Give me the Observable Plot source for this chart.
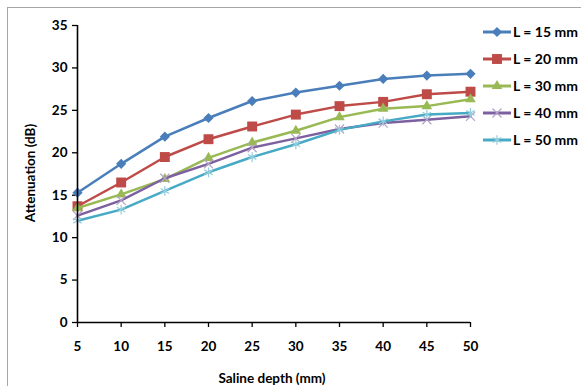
<!DOCTYPE html>
<html><head><meta charset="utf-8">
<script src="https://cdn.jsdelivr.net/npm/d3@7"></script>
<script src="https://cdn.jsdelivr.net/npm/@observablehq/plot@0.6"></script>
<style>
body{margin:0;background:#fff;}
#wrap{position:relative;width:581px;height:386px;overflow:hidden;font-family:Lato,"Open Sans",sans-serif;}
#frame{position:absolute;left:7px;top:7px;width:620px;height:420px;border:1px solid #a6a6a6;}
#chart{position:absolute;left:0;top:0;}
#chart svg text{font-weight:bold;fill:#000;}
#legend{position:absolute;left:478px;top:18px;}
.title{position:absolute;font-weight:bold;font-size:13.5px;color:#000;white-space:nowrap;}
#ytitle{left:30px;top:173px;transform:translate(-50%,-50%) rotate(-90deg);}
#xtitle{left:272px;top:378px;transform:translate(-50%,-50%);}
</style></head>
<body><div id="wrap"><div id="frame"></div><div id="chart"></div><svg id="legend" width="103" height="140"></svg>
<div class="title" id="ytitle">Attenuation (dB)</div><div class="title" id="xtitle">Saline depth (mm)</div></div>
<script>
const depths = [5, 10, 15, 20, 25, 30, 35, 40, 45, 50];
const seriesNames = ["L = 15 mm", "L = 20 mm", "L = 30 mm", "L = 40 mm", "L = 50 mm"];
const L15 = [15.3, 18.7, 21.9, 24.1, 26.1, 27.1, 27.9, 28.7, 29.1, 29.3];
const L20 = [13.7, 16.5, 19.5, 21.6, 23.1, 24.5, 25.5, 26.0, 26.9, 27.2];
const L30 = [13.5, 15.1, 16.9, 19.4, 21.2, 22.6, 24.2, 25.2, 25.5, 26.3];
const L40 = [12.6, 14.4, 17.0, 18.7, 20.6, 21.7, 22.8, 23.5, 23.9, 24.3];
const L50 = [12.0, 13.3, 15.5, 17.7, 19.5, 21.0, 22.7, 23.7, 24.5, 24.7];
const yTicks = [0, 5, 10, 15, 20, 25, 30, 35];

const seriesValues = [L15, L20, L30, L40, L50];
const lineColors = ["#4a7ebb", "#be4b48", "#98b954", "#7d60a0", "#46aac5"];
const markColors = ["#4a7ebb", "#be4b48", "#98b954", "#b3a2c7", "#93cddd"];
const symbols = [d3.symbolDiamond2, "square", "triangle", "times", "asterisk"];
const radii = [4.6, 5.6, 3.9, 4.2, 4.6];
const filled = [true, true, true, false, false];

const marks = [];
seriesValues.forEach((vals, i) => {
  const rows = depths.map((d, j) => ({depth: d, value: vals[j], series: seriesNames[i]}));
  marks.push(Plot.line(rows, {x: "depth", y: "value", stroke: lineColors[i], strokeWidth: 2.5}));
  marks.push(Plot.dot(rows, filled[i]
    ? {x: "depth", y: "value", symbol: symbols[i], r: radii[i], fill: markColors[i], stroke: "none"}
    : {x: "depth", y: "value", symbol: symbols[i], r: radii[i], stroke: markColors[i], strokeWidth: 1.2, fill: "none"}));
});

const chart = Plot.plot({
  width: 581, height: 386,
  marginLeft: 77, marginRight: 111, marginTop: 25, marginBottom: 64,
  style: {fontFamily: "Lato, 'Open Sans', sans-serif", fontSize: "13.5px", background: "transparent"},
  x: {domain: [5, 50], label: null},
  y: {domain: [0, 35], label: null},
  marks: [
    Plot.axisX(depths, {tickSize: 5, tickPadding: 14, fontSize: 13.5, fontWeight: "bold", stroke: "#000", strokeWidth: 1.3, label: null}),
    Plot.axisY(yTicks, {tickSize: 5, tickPadding: 5, fontSize: 13.5, fontWeight: "bold", stroke: "#000", strokeWidth: 1.3, label: null}),
    ...marks,
    Plot.ruleY([0], {stroke: "#000", strokeWidth: 1.6}),
    Plot.ruleX([5], {stroke: "#000", strokeWidth: 1.6})
  ]
});
document.getElementById("chart").appendChild(chart);

// legend
const lg = d3.select("#legend");
seriesNames.forEach((name, i) => {
  const cy = 14 + i * 27;
  const g = lg.append("g").attr("transform", `translate(0,${cy})`);
  g.append("line").attr("x1", 5).attr("x2", 33).attr("y1", 0).attr("y2", 0)
    .attr("stroke", lineColors[i]).attr("stroke-width", 3);
  const symMap = {square: d3.symbolSquare, triangle: d3.symbolTriangle, times: d3.symbolTimes, asterisk: d3.symbolAsterisk};
  const sym = typeof symbols[i] === "string" ? symMap[symbols[i]] : symbols[i];
  const p = g.append("path").attr("transform", "translate(19,0)")
    .attr("d", d3.symbol(sym, Math.PI * radii[i] * radii[i])());
  if (filled[i]) p.attr("fill", markColors[i]);
  else p.attr("fill", "none").attr("stroke", markColors[i]).attr("stroke-width", 1.2);
  g.append("text").attr("x", 35).attr("y", 0).attr("dy", "0.35em")
    .attr("font-size", 14).attr("font-weight", "bold").attr("font-family", "Lato, 'Open Sans', sans-serif")
    .text(name);
});
</script></body></html>
